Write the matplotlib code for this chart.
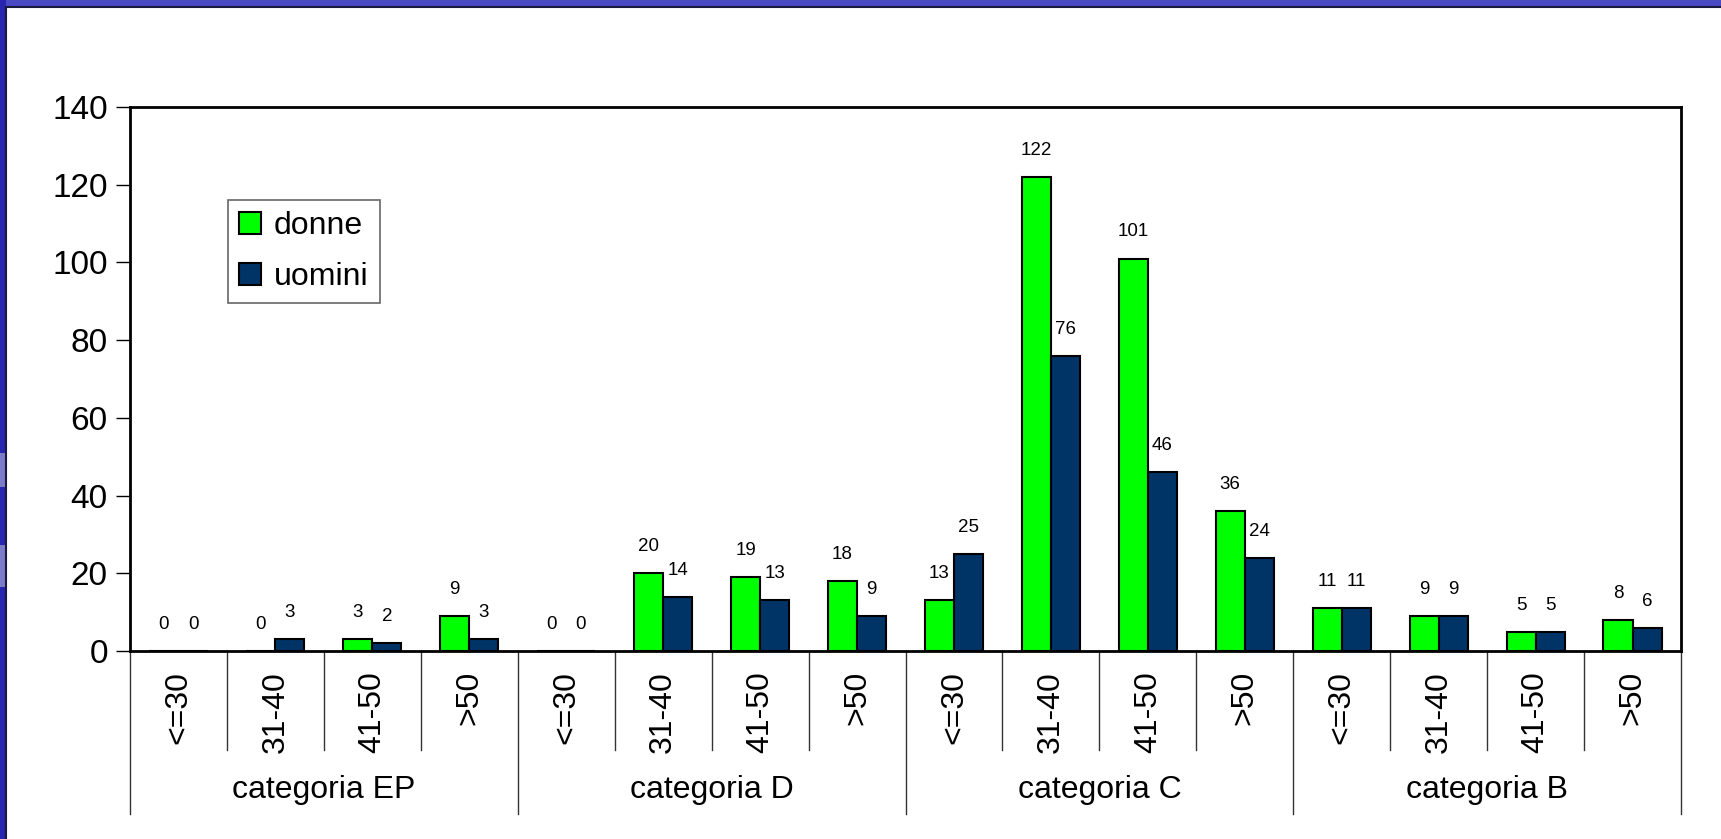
import matplotlib.pyplot as plt
import numpy as np
from matplotlib.patches import Rectangle

plt.rcParams['font.family'] = ['Liberation Sans', 'DejaVu Sans']

categorie = ["categoria EP", "categoria D", "categoria C", "categoria B"]
eta = ["<=30", "31-40", "41-50", ">50"]
donne = [0, 0, 3, 9, 0, 20, 19, 18, 13, 122, 101, 36, 11, 9, 5, 8]
uomini = [0, 3, 2, 3, 0, 14, 13, 9, 25, 76, 46, 24, 11, 9, 5, 6]

fig = plt.figure(figsize=(17.21, 8.39), dpi=100)
fig.patch.set_facecolor('white')

# blue slide frame (top and left strips)
fig.patches.append(Rectangle((0, 1 - 7 / 839), 1, 7 / 839, transform=fig.transFigure,
                             facecolor='#4a4ac4', edgecolor='none', zorder=0))
fig.patches.append(Rectangle((0, 0), 6 / 1721, 1, transform=fig.transFigure,
                             facecolor='#2626b0', edgecolor='none', zorder=0))
for y0, hh in ((0.30, 0.05), (0.42, 0.04)):
    fig.patches.append(Rectangle((0, y0), 6 / 1721, hh, transform=fig.transFigure,
                                 facecolor='#7c7cc8', edgecolor='none', zorder=0))
fig.lines.append(plt.Line2D([6 / 1721, 6 / 1721], [0, 1 - 7 / 839], transform=fig.transFigure,
                            color='#1a1a40', lw=1.5))
fig.lines.append(plt.Line2D([6 / 1721, 1], [1 - 7 / 839, 1 - 7 / 839], transform=fig.transFigure,
                            color='#1a1a40', lw=1.5))

ax = fig.add_axes([130 / 1721, 1 - 651 / 839, 1551 / 1721, 544 / 839])

n = len(donne)
x = np.arange(n) + 0.5
w = 0.3
b1 = ax.bar(x - w / 2, donne, w, color='#00ff00', edgecolor='black', linewidth=1.5, label='donne', zorder=3)
b2 = ax.bar(x + w / 2, uomini, w, color='#003366', edgecolor='black', linewidth=1.5, label='uomini', zorder=3)

for bars, vals in ((b1, donne), (b2, uomini)):
    for r, v in zip(bars, vals):
        ax.annotate(str(v), (r.get_x() + r.get_width() / 2, v), xytext=(0, 13),
                    textcoords='offset points', ha='center', va='bottom', fontsize=13.5)

ax.set_xlim(0, n)
ax.set_ylim(0, 140)
ax.set_yticks(range(0, 141, 20))
ax.tick_params(axis='y', direction='out', length=10, width=1, labelsize=24, pad=6)
ax.set_xticks([])
for s in ax.spines.values():
    s.set_linewidth(2)

trans = ax.get_xaxis_transform()
for i in range(n + 1):
    y_end = -0.30 if i % 4 == 0 else -0.182
    ax.plot([i, i], [0, y_end], transform=trans, color='#333333', lw=1, clip_on=False)
for i in range(n):
    ax.text(i + 0.5, -0.037, eta[i % 4], transform=trans, rotation=90,
            ha='center', va='top', fontsize=23)
for j, c in enumerate(categorie):
    ax.text(j * 4 + 2, -0.256, c, transform=trans, ha='center', va='center', fontsize=23)

leg = ax.legend(loc='upper left', bbox_to_anchor=(0.063, 0.829), borderaxespad=0,
                fontsize=23, fancybox=False, edgecolor='#666666', framealpha=1,
                handlelength=0.7, handleheight=0.7, handletextpad=0.4, labelspacing=0.65,
                borderpad=0.35)
leg.get_frame().set_linewidth(1.2)

fig.savefig('out.png', dpi=100, facecolor=fig.get_facecolor())
